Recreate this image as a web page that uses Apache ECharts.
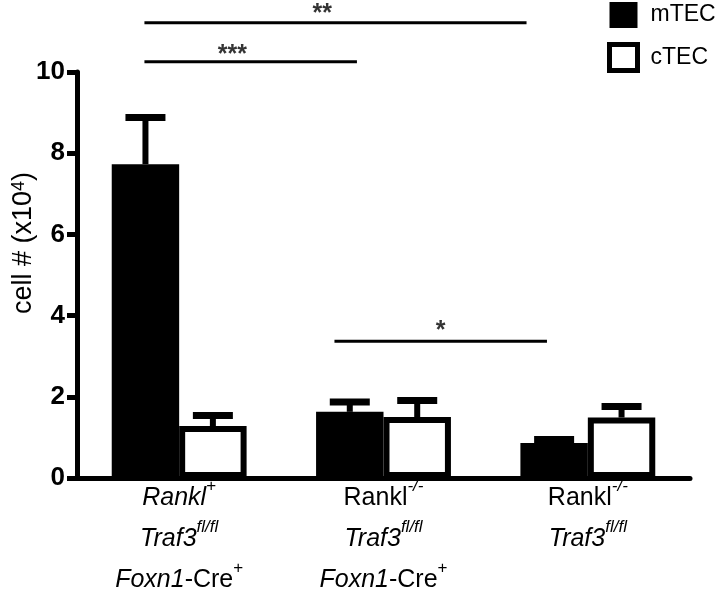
<!DOCTYPE html>
<html>
<head>
<meta charset="utf-8">
<script src="https://cdn.jsdelivr.net/npm/echarts@6/dist/echarts.min.js"></script>
<style>html,body{margin:0;padding:0;background:#fff}#c{width:719px;height:606px}</style>
</head>
<body>
<div id="c"></div>
<script>
// ---- data ----
const categories = ['Rankl+ Traf3fl/fl Foxn1-Cre+', 'Rankl-/- Traf3fl/fl Foxn1-Cre+', 'Rankl-/- Traf3fl/fl'];
const categoryLabels = [
  '{i|Rankl}{sup|+}\n{i|Traf3}{supi|fl/fl}\n{i|Foxn1}{n|-Cre}{sup|+}',
  '{n|Rankl}{supi|-/-}\n{i|Traf3}{supi|fl/fl}\n{i|Foxn1}{n|-Cre}{sup|+}',
  '{n|Rankl}{supi|-/-}\n{i|Traf3}{supi|fl/fl}'
];
const seriesNames = ['mTEC', 'cTEC'];
const mTEC = [7.73, 1.63, 0.86];
const mTECUpper = [8.88, 1.87, 0.95];
const cTEC = [1.28, 1.50, 1.49];
const cTECUpper = [1.54, 1.91, 1.76];
const yTicks = [0, 2, 4, 6, 8, 10];
// significance brackets (x in category-band units, y in data units)
const sigText = ['**', '***', '*'];
const sigStart = [0.33, 0.33, 1.26];
const sigEnd = [2.20, 1.37, 2.30];
const sigLevel = [11.21, 10.25, 3.37];
const sigTextX = [1.20, 0.76, 1.78];
const sigTextY = [11.42, 10.42, 3.62];

// ---- chart ----
const FONT = '"Liberation Sans", Arial, sans-serif';
const GAP = 0.34;
const chart = echarts.init(document.getElementById('c'), null, {renderer: 'canvas'});

function errRender(sign) {
  return function (params, api) {
    const i = api.value(0), mean = api.value(1), hi = api.value(2);
    const band = api.size([1, 0])[0];
    const bw = band * (1 - GAP) / 2;
    const cx = api.coord([i, 0])[0] + sign * bw / 2;
    const yM = api.coord([i, mean])[1], yH = api.coord([i, hi])[1];
    return {
      type: 'group',
      children: [
        {type: 'rect', shape: {x: cx - 3, y: yH, width: 6, height: yM - yH}, style: {fill: '#000'}},
        {type: 'rect', shape: {x: cx - 20, y: yH - 3.5, width: 40, height: 7}, style: {fill: '#000'}}
      ]
    };
  };
}

const series = [
  {
    name: seriesNames[0], type: 'bar', data: mTEC, barGap: '0%', barCategoryGap: (GAP * 100) + '%',
    itemStyle: {color: '#000'}, z: 2
  },
  {
    name: seriesNames[1], type: 'bar', data: cTEC, barGap: '0%', barCategoryGap: (GAP * 100) + '%',
    itemStyle: {color: '#fff', borderColor: '#000', borderWidth: 6}, z: 2
  },
  {
    type: 'custom', renderItem: errRender(-1), encode: {x: 0, y: [1, 2]},
    data: mTEC.map((v, i) => [i, v, mTECUpper[i]]), z: 3, silent: true
  },
  {
    type: 'custom', renderItem: errRender(1), encode: {x: 0, y: [1, 2]},
    data: cTEC.map((v, i) => [i, v, cTECUpper[i]]), z: 3, silent: true
  }
];
sigText.forEach((t, k) => {
  series.push({
    type: 'line', xAxisIndex: 1, clip: false, symbol: 'none', silent: true,
    lineStyle: {color: '#000', width: 3},
    data: [[sigStart[k], sigLevel[k]], [sigEnd[k], sigLevel[k]]]
  });
});
series.push({
  type: 'scatter', xAxisIndex: 1, clip: false, symbolSize: 0, silent: true,
  data: sigText.map((t, k) => ({name: t, value: [sigTextX[k], sigTextY[k]]})),
  label: {show: true, position: 'inside', formatter: p => p.name, color: '#000',
    fontSize: 25, fontWeight: 'bold', fontFamily: FONT}
});

chart.setOption({
  animation: false,
  backgroundColor: '#fff',
  grid: {left: 77, right: 29, top: 72, bottom: 128, containLabel: false, outerBoundsMode: 'none'},
  legend: {
    orient: 'vertical', left: 607, top: 2, padding: 0, itemWidth: 28, itemHeight: 26, itemGap: 14,
    icon: 'rect',
    textStyle: {fontSize: 23, fontFamily: FONT, color: '#000', padding: [0, 0, 0, 8]},
    data: [
      {name: 'mTEC'},
      {name: 'cTEC', itemStyle: {color: '#fff', borderColor: '#000', borderWidth: 5}}
    ]
  },
  xAxis: [
    {
      type: 'category', data: categories,
      axisLine: {lineStyle: {color: '#000', width: 5}},
      axisTick: {alignWithLabel: true, length: 12, lineStyle: {color: '#000', width: 5}},
      axisLabel: {
        margin: 0, interval: 0, color: '#000', fontFamily: FONT, fontSize: 25, lineHeight: 41,
        formatter: (v, idx) => categoryLabels[idx],
        rich: {
          i: {fontStyle: 'italic', fontSize: 25, fontFamily: FONT, color: '#000', lineHeight: 41},
          n: {fontSize: 25, fontFamily: FONT, color: '#000', lineHeight: 41},
          sup: {fontSize: 17, fontFamily: FONT, color: '#000', verticalAlign: 'top', lineHeight: 18},
          supi: {fontSize: 17, fontStyle: 'italic', fontFamily: FONT, color: '#000', verticalAlign: 'top', lineHeight: 18}
        }
      }
    },
    {type: 'value', min: 0, max: 3, show: false}
  ],
  yAxis: {
    type: 'value', min: yTicks[0], max: yTicks[yTicks.length - 1], interval: 2,
    name: 'cell # (x10{s|4})', nameLocation: 'middle', nameGap: 40, nameMoveOverlap: false,
    nameTextStyle: {fontSize: 27, fontFamily: FONT, color: '#000', padding: [0, 0, 0, 64],
      rich: {s: {fontSize: 18, fontFamily: FONT, color: '#000', verticalAlign: 'top', lineHeight: 16}}},
    axisLine: {show: true, lineStyle: {color: '#000', width: 5}},
    axisTick: {show: true, length: 10, lineStyle: {color: '#000', width: 5}},
    splitLine: {show: false},
    axisLabel: {margin: 12, color: '#000', fontFamily: FONT, fontSize: 26, fontWeight: 'bold'}
  },
  series: series
});
</script>
</body>
</html>
